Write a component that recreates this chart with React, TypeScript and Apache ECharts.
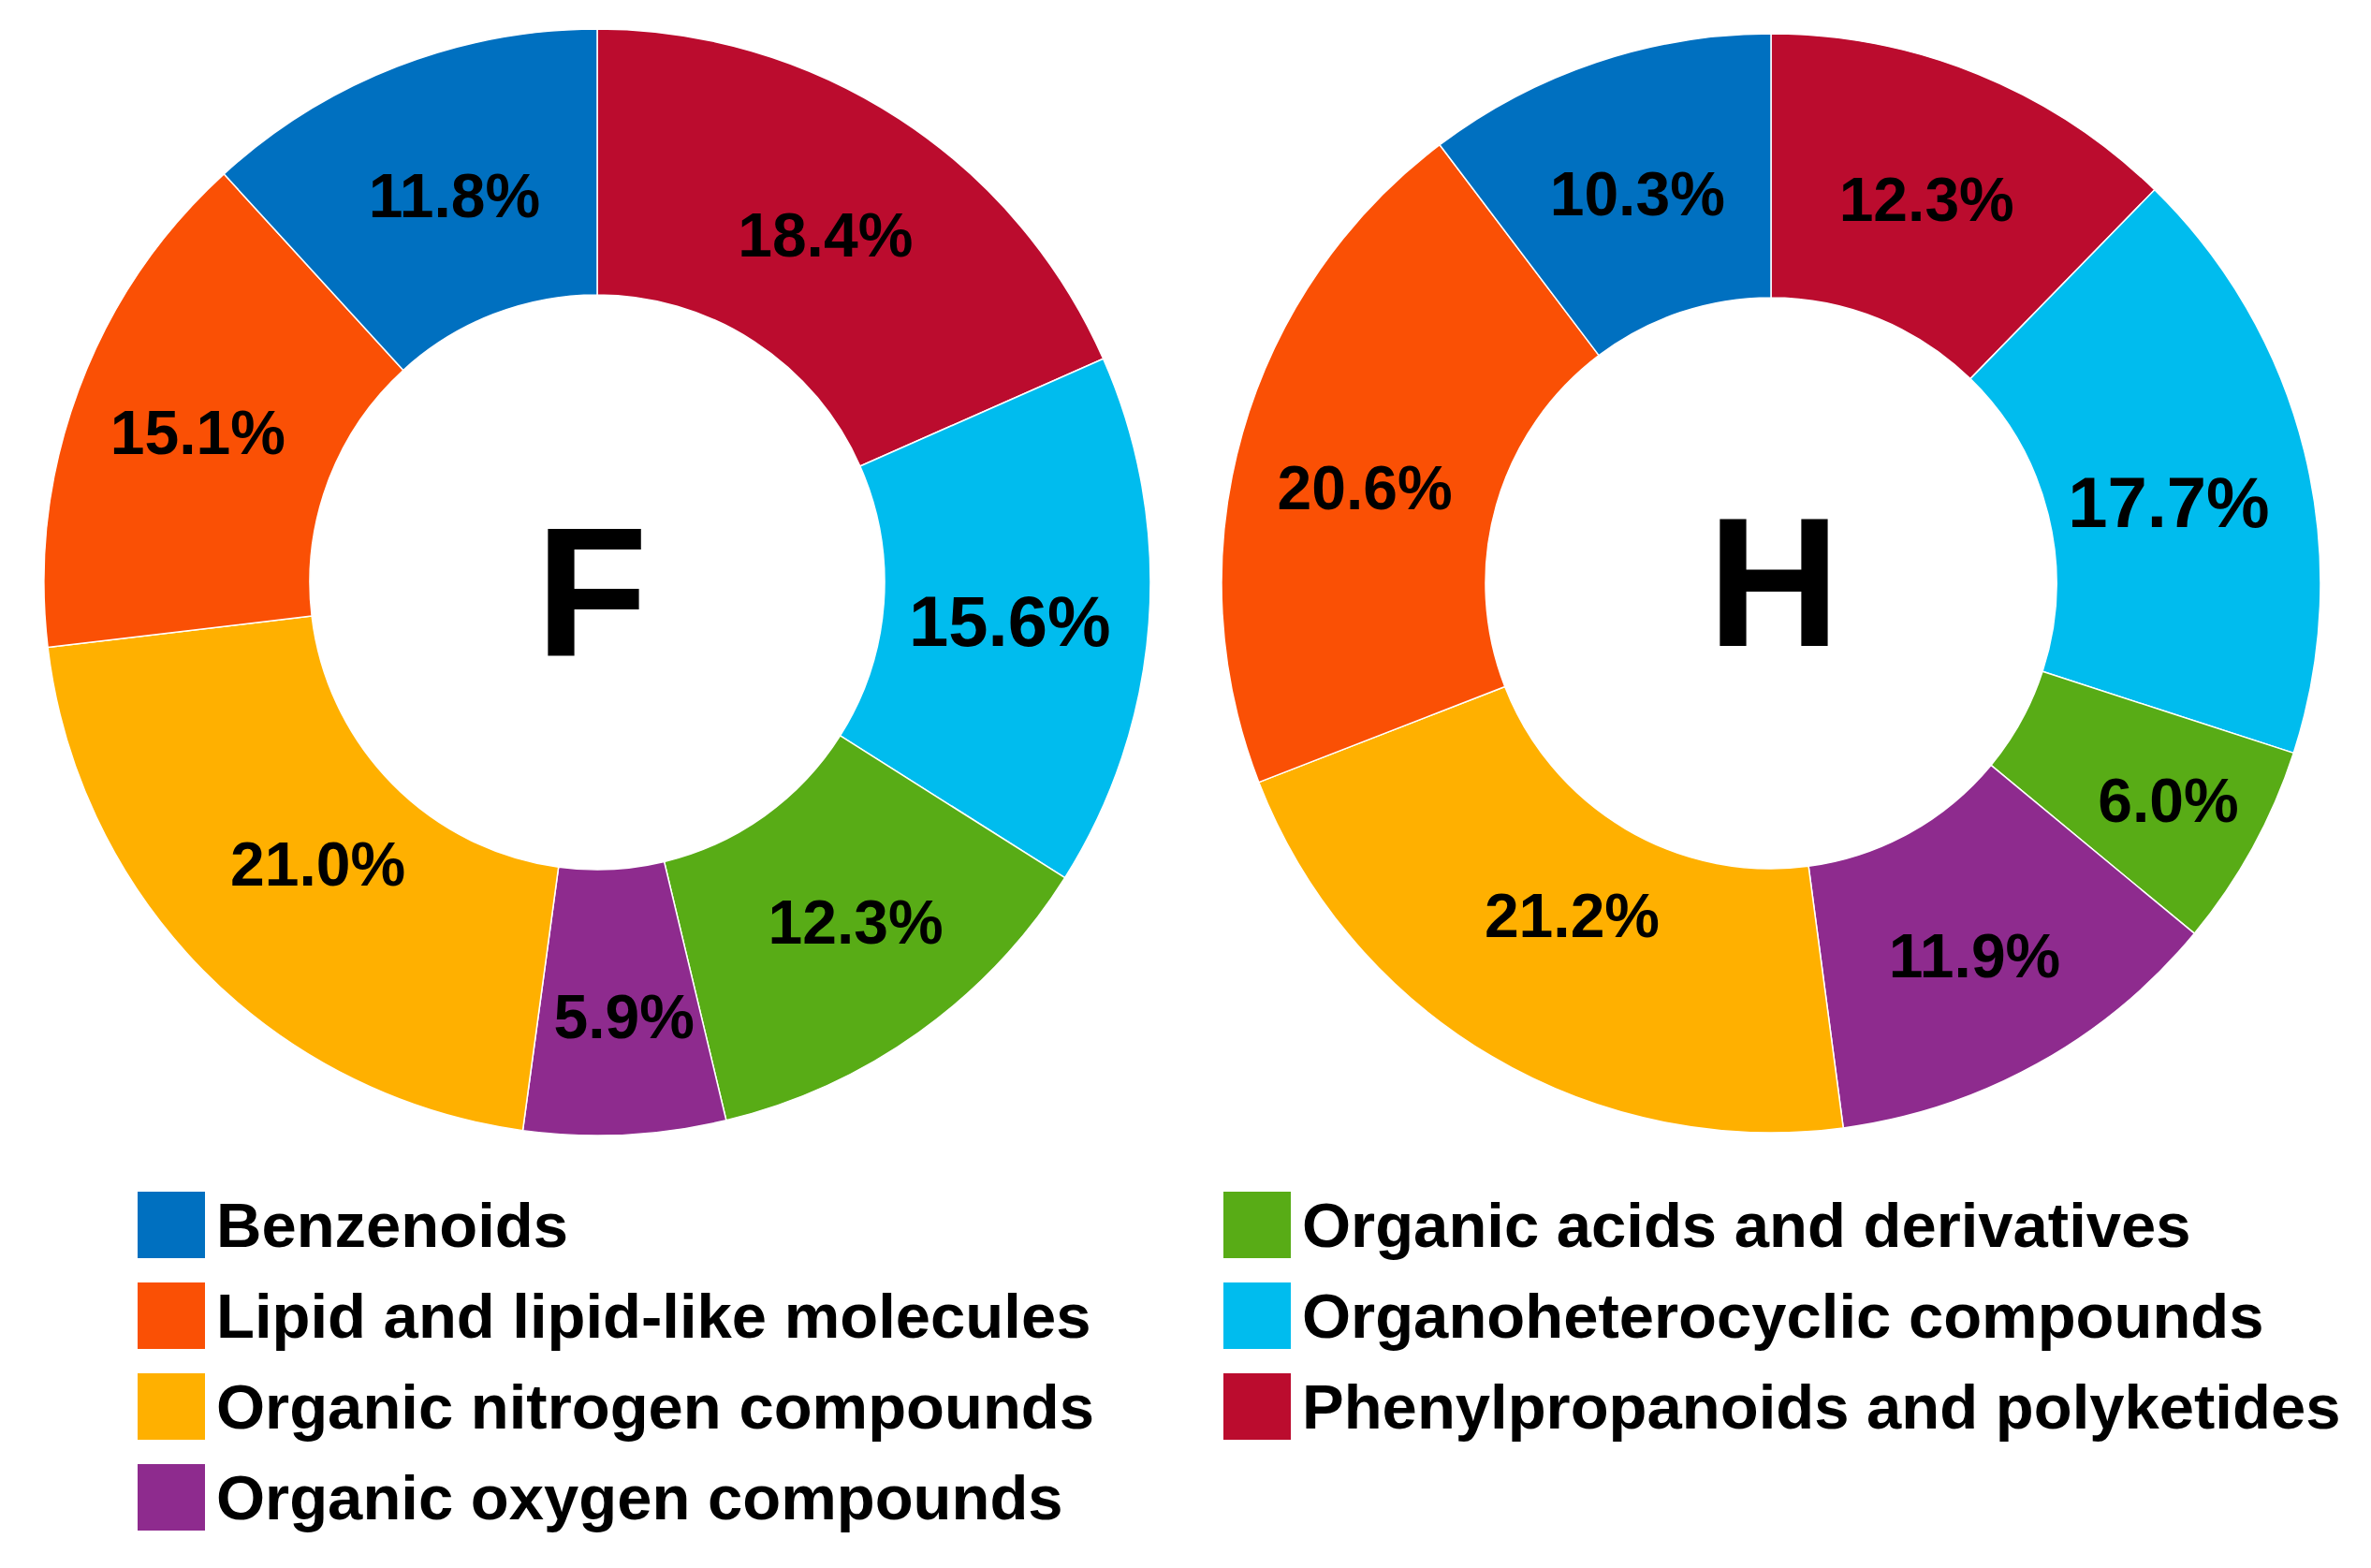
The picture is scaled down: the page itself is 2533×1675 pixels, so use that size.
import React, { useEffect, useRef } from "react";
import * as echarts from "echarts";

const categories = [
  "Benzenoids",
  "Lipid and lipid-like molecules",
  "Organic nitrogen compounds",
  "Organic oxygen compounds",
  "Organic acids and derivatives",
  "Organoheterocyclic compounds",
  "Phenylpropanoids and polyketides",
];
const colors = ["#0070C0", "#FA5005", "#FFB000", "#8E2B8E", "#58AC16", "#00BCEE", "#BB0C2E"];
const valuesF = [11.8, 15.1, 21.0, 5.9, 12.3, 15.6, 18.4];
const valuesH = [10.3, 20.6, 21.2, 11.9, 6.0, 17.7, 12.3];
const legendLeft = categories.slice(0, 4);
const legendRight = categories.slice(4);

// small manual nudges of the percentage labels (as in the original figure)
const labelNudgeF: [number, number][] = [[11, 8], [-3, -2], [24, -16], [6, 13], [13, -5], [-10, 8], [-3, 8]];
const labelNudgeH: [number, number][] = [[0, 10], [-2, 21], [16, -31], [0, 5], [31, 16], [-11, 21], [-3, 6]];

const FONT = "'Liberation Sans', Arial, Helvetica, sans-serif";

function buildData(values: number[], nudges: [number, number][]) {
  // clockwise from 12 o'clock: reverse of legend order
  const items = categories.map((name, i) => ({
    name,
    value: values[i],
    itemStyle: { color: colors[i] },
    label: {
      fontSize: name === "Organoheterocyclic compounds" ? 76 : 66,
      offset: nudges[i],
    },
  }));
  return items.reverse();
}

function pieSeries(
  values: number[],
  nudges: [number, number][],
  center: [number, number],
  radius: [number, number]
) {
  return {
    type: "pie",
    center,
    radius,
    startAngle: 90,
    clockwise: true,
    avoidLabelOverlap: false,
    silent: true,
    itemStyle: { borderColor: "#ffffff", borderWidth: 1.5 },
    label: {
      show: true,
      position: "inside",
      formatter: (p: any) => `${Number(p.value).toFixed(1)}%`,
      color: "#000",
      fontWeight: "bold",
      fontFamily: FONT,
      fontSize: 66,
    },
    labelLine: { show: false },
    emphasis: { disabled: true },
    data: buildData(values, nudges),
  };
}

export default function App() {
  const ref = useRef<HTMLDivElement>(null);
  useEffect(() => {
    if (!ref.current) return;
    const chart = echarts.init(ref.current, undefined, { renderer: "svg" });
    const legendCommon = {
      orient: "vertical",
      icon: "rect",
      itemWidth: 74,
      itemHeight: 73,
      itemGap: 22,
      selectedMode: false,
      textStyle: {
        fontSize: 67,
        fontWeight: "bold",
        fontFamily: FONT,
        color: "#000",
        padding: [0, 0, 0, 6],
      },
    };
    chart.setOption({
      animation: false,
      backgroundColor: "#ffffff",
      legend: [
        { ...legendCommon, data: legendLeft, left: 140, top: 1266 },
        { ...legendCommon, data: legendRight, left: 1300, top: 1266 },
      ],
      graphic: [
        {
          type: "text",
          x: 632,
          y: 633,
          style: {
            text: "F",
            fontSize: 196,
            fontWeight: "bold",
            fontFamily: FONT,
            fill: "#000",
            align: "center",
            verticalAlign: "middle",
          },
        },
        {
          type: "text",
          x: 1895,
          y: 622,
          style: {
            text: "H",
            fontSize: 196,
            fontWeight: "bold",
            fontFamily: FONT,
            fill: "#000",
            align: "center",
            verticalAlign: "middle",
          },
        },
      ],
      series: [
        pieSeries(valuesF, labelNudgeF, [638, 622], [307, 591]),
        pieSeries(valuesH, labelNudgeH, [1892, 623], [305, 587]),
      ],
    });
    return () => chart.dispose();
  }, []);
  return (
    <div
      ref={ref}
      style={{ position: "fixed", left: 0, top: 0, width: 2533, height: 1675, background: "#fff" }}
    />
  );
}
